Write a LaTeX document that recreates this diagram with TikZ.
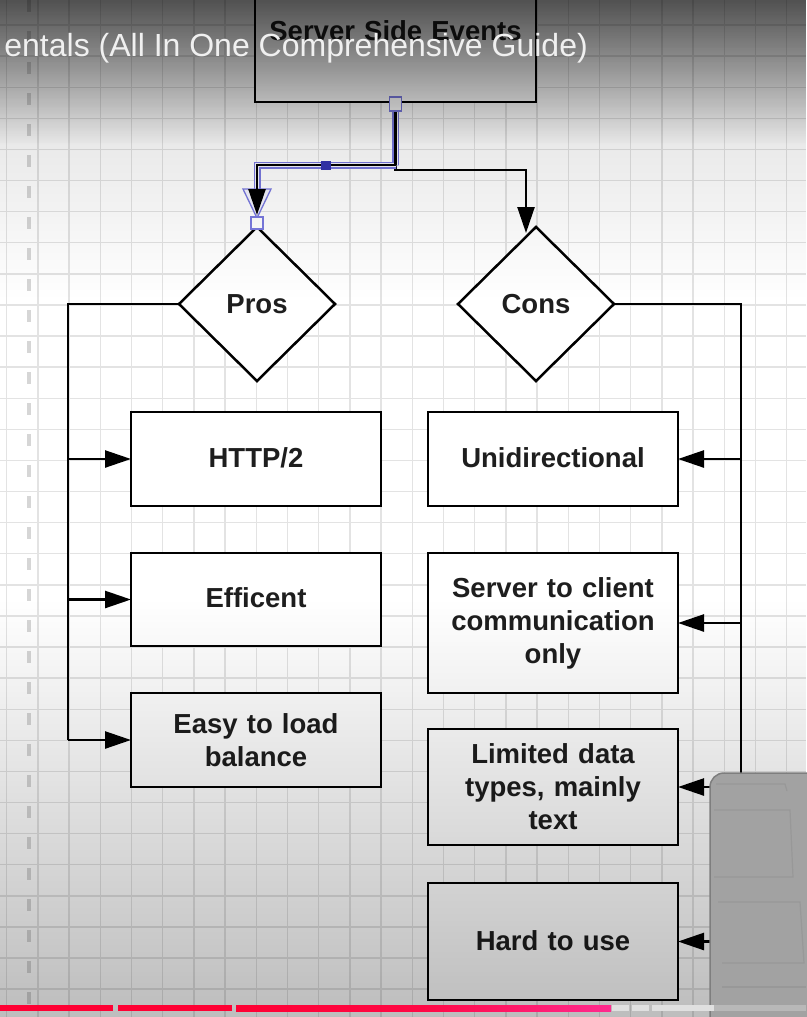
\documentclass[tikz,border=0pt]{standalone}
\usepackage{fontspec}
\setmainfont{Liberation Sans}
\usetikzlibrary{arrows.meta,shapes.geometric,fadings,calc}
\definecolor{gridc}{HTML}{E3E3E3}
\definecolor{rulec}{HTML}{D6D6D6}
\definecolor{txt}{HTML}{1E1E1E}
\definecolor{selc}{HTML}{7A7AE0}
\definecolor{selfill}{HTML}{3434B0}
\definecolor{ovc}{HTML}{A2A2A2}
\definecolor{ovd}{HTML}{7E7E7E}
\definecolor{ytred}{HTML}{FF0033}
\definecolor{ytpink}{HTML}{FF2A8E}
\tikzset{
  gridline/.style={gridc, line width=1.4pt},
  conn/.style={black, line width=2.5pt},
  arr/.style={-{Triangle[length=26pt,width=17pt]}},
  box/.style={draw=black, line width=2.5pt, fill=white, minimum width=250pt,
    text width=244pt, align=center, inner sep=0pt, outer sep=0pt, text=txt,
    font=\bfseries\fontsize{27.5}{33}\selectfont},
  dia/.style={diamond, draw=black, line width=2.5pt, fill=white,
    minimum width=156pt, minimum height=154pt, inner sep=0pt, outer sep=0pt,
    text=txt, font=\bfseries\fontsize{27.5}{33}\selectfont},
  handle/.style={draw=selc, line width=1.2pt, fill=white},
  panel/.style={draw=ovd!80, line width=1.2pt}
}
\begin{document}
\begin{tikzpicture}[x=1pt,y=-1pt]
\useasboundingbox (0,0) rectangle (806,1017);
\fill[white] (0,0) rectangle (806,1017);
% grid
\foreach \k in {0,...,25} \draw[gridline] ({6.6+31.2*\k},0) -- ({6.6+31.2*\k},1017);
\foreach \k in {0,...,33} \draw[gridline] (0,{-6.1+31.1*\k}) -- (806,{-6.1+31.1*\k});
\draw[rulec, line width=4pt, dash pattern=on 12pt off 19pt] (29,0) -- (29,1017);

% nodes
\node[box, minimum width=281pt, text width=275pt, minimum height=142pt] (sse) at (395.5,31) {Server Side Events};
\node[dia] (pros) at (257,304) {Pros};
\node[dia] (cons) at (536,304) {Cons};
\node[box, minimum height=94pt] (http) at (256,459) {\raisebox{3pt}{HTTP/2}};
\node[box, minimum height=93pt] (eff) at (256,599.5) {\raisebox{3pt}{Efficent}};
\node[box, minimum height=94pt] (easy) at (256,740) {Easy to load\\balance};
\node[box, minimum height=94pt] (uni) at (553,459) {\raisebox{3pt}{Unidirectional}};
\node[box, minimum height=140pt] (s2c) at (553,623) {Server to client\\communication\\only};
\node[box, minimum height=116pt] (lim) at (553,787) {Limited data\\types, mainly\\text};
\node[box, minimum height=117pt] (hard) at (553,941.5) {\raisebox{2pt}{Hard to use}};

% junctions
\coordinate (jl) at (396,165);
\coordinate (jr) at (396,170);
\coordinate (prosin) at ([yshift=12pt]pros.north);
\coordinate (consin) at ([xshift=-10pt,yshift=-6pt]cons.north);
\coordinate (lbus) at (68,0);
\coordinate (rbus) at (741,0);

% connector to cons
\draw[conn, arr] (sse.south) |- (jr) -| (consin);
% selected connector to pros
\draw[selc, line width=7pt] (sse.south) |- (jl) -| ([yshift=26pt]prosin);
\draw[white!92!selc, line width=4pt] (sse.south) |- (jl) -| ([yshift=26pt]prosin);
\draw[selc, line width=1.3pt, fill=white!92!selc] ($(prosin)+(-14,-26)$) -- ($(prosin)+(14,-26)$) -- ($(prosin)+(0,3)$) -- cycle;
\draw[conn, arr] (sse.south) |- (jl) -| (prosin);
\fill[selfill] ($(jl)+(-75,-4.5)$) rectangle ($(jl)+(-65,4.5)$);
\draw[handle] ($(pros.north)+(-6,-10)$) rectangle ($(pros.north)+(6,2)$);
\draw[handle] ($(sse.south)+(-6,-5)$) rectangle ($(sse.south)+(6,9)$);

% pros bus
\draw[conn] (pros.west) -| (lbus |- easy.west);
\draw[conn, arr] (lbus |- http.west) -- (http.west);
\draw[conn, arr] (lbus |- eff.west) -- (eff.west);
\draw[conn, arr] (lbus |- easy.west) -- (easy.west);
% cons bus
\draw[conn] (cons.east) -| (rbus |- hard.east);
\draw[conn, arr] (rbus |- uni.east) -- (uni.east);
\draw[conn, arr] (rbus |- s2c.east) -- (s2c.east);
\draw[conn, arr] (rbus |- lim.east) -- (lim.east);
\draw[conn, arr] (rbus |- hard.east) -- (hard.east);

% video overlays (y axis is flipped, so fading directions are swapped)
\fill[black, path fading=south, fill opacity=0.62] (0,0) rectangle (806,145);
\fill[black, path fading=south, fill opacity=0.16] (0,0) rectangle (806,300);
\fill[black, path fading=north, fill opacity=0.26] (0,600) rectangle (806,1017);
\node[anchor=base east, inner sep=0pt, text=white!94!black,
  font=\fontsize{32}{32}\selectfont] (title) at (588,56) {entals (All In One Comprehensive Guide)};

% object at bottom right
\filldraw[fill=ovc, draw=ovd, line width=1.5pt, rounded corners=14pt] (710,773) rectangle (840,1050);
\draw[panel] (716,784) -- (785,784) -- (787,791);
\draw[panel] (714,810) -- (790,810) -- (793,877) -- (714,877);
\draw[panel] (718,902) -- (800,902) -- (804,963) -- (722,963);
\draw[panel] (722,987) -- (806,987);

% progress bar
\fill[ytred] (0,1005) rectangle (113,1011);
\fill[ytred] (118,1005) rectangle (232,1011);
\shade[left color=ytred, right color=ytpink, middle color=ytred!80!ytpink] (236,1005) rectangle (611,1011);
\fill[white!88!black] (612,1005) rectangle (629,1011);
\fill[white!88!black] (632,1005) rectangle (649,1011);
\fill[white!88!black] (652,1005) rectangle (714,1011);
\fill[white!72!black] (714,1005) rectangle (806,1011);
\end{tikzpicture}
\end{document}
